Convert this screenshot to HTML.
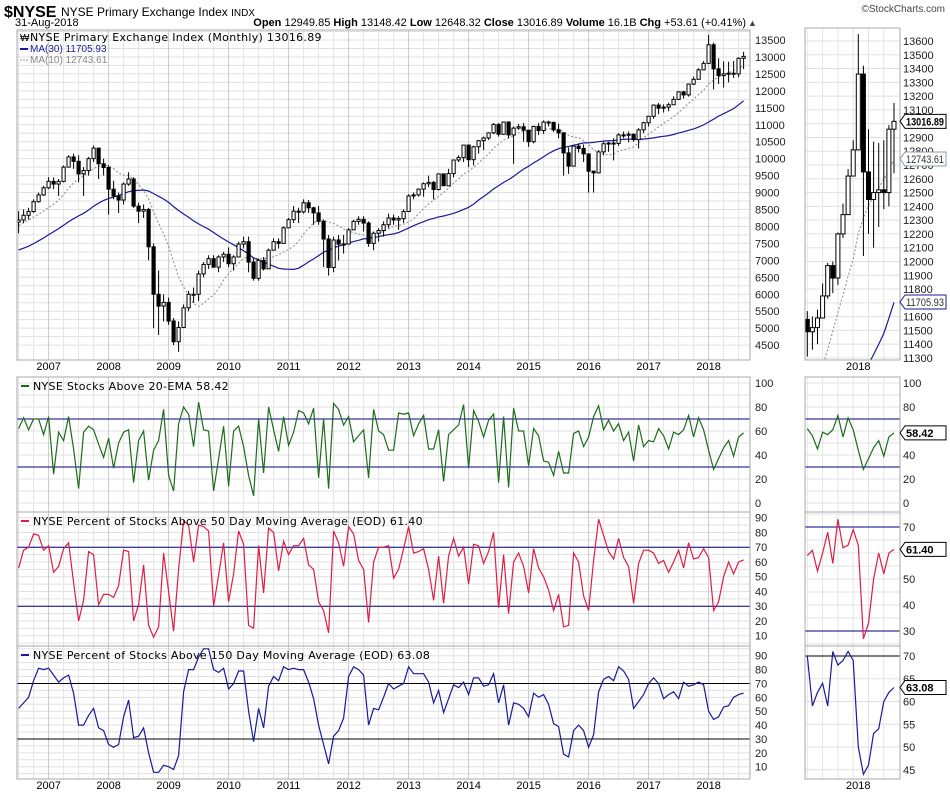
<!DOCTYPE html>
<html><head><meta charset="utf-8">
<style>
html,body{margin:0;padding:0;background:#fff;overflow:hidden;width:950px;height:795px;}
svg{display:block;font-family:"Liberation Sans",sans-serif;overflow:hidden;}
.ax{font-size:11px;fill:#222;}
</style></head>
<body>
<svg id="chart" width="950" height="795" viewBox="0 0 950 795" xmlns="http://www.w3.org/2000/svg">
<text x="4" y="17" font-size="16" font-weight="bold">$NYSE</text>
<text x="61" y="16" font-size="12">NYSE Primary Exchange Index <tspan font-size="10">INDX</tspan></text>
<text x="15" y="26" font-size="11">31-Aug-2018</text>
<text x="746" y="26" font-size="11" text-anchor="end"><tspan font-weight="bold">Open</tspan> 12949.85 <tspan font-weight="bold">High</tspan> 13148.42 <tspan font-weight="bold">Low</tspan> 12648.32 <tspan font-weight="bold">Close</tspan> 13016.89 <tspan font-weight="bold">Volume</tspan> 16.1B <tspan font-weight="bold">Chg</tspan> +53.61 (+0.41%)</text>
<text x="748" y="26" font-size="9" fill="#444">▲</text>
<text x="945" y="12" font-size="10" text-anchor="end" fill="#444">©StockCharts.com</text>
<g id="g"></g>
</svg>
<script>
const priorCloses=[6620,6740,6620,6420,6520,6660,6470,6520,6600,6700,6980,7250,7080,7320,7120,6950,7150,7270,7530,7400,7570,7490,7730,7750,8150,8200,8220,8350,8050,8130];
const closes=[8190,8330,8440,8730,8930,9140,
9330,9250,9330,9750,10050,9920,9550,9650,10000,10310,9850,9740,
9100,8900,8780,9250,9400,8600,8450,8500,7400,6000,5650,5760,
5210,4600,5020,5600,6000,6000,6600,6880,7050,6800,7100,7180,
6900,7100,7480,7550,6950,6470,7000,6750,7300,7550,7500,7960,
8200,8450,8430,8700,8550,8400,8150,7630,6790,7600,7480,7480,
7900,8150,8210,8100,7500,7800,7880,8050,8250,8190,8230,8440,
8900,8930,9100,9260,9300,9090,9550,9200,9560,9960,10030,10400,
9970,10350,10530,10610,10760,11010,10720,11080,10700,10900,10940,10840,
10500,10950,10830,11080,11070,10850,10760,10170,9780,10370,10300,10140,
9630,9580,10200,10440,10460,10450,10700,10700,10720,10560,10850,11060,
11250,11580,11490,11520,11590,11750,11970,11880,12200,12340,12620,12810,
13360,12650,12450,12500,12520,12500,12960,13016.89];
const highs=[8450,8500,8550,8800,9000,9200,
9450,9450,9400,9800,10100,10150,10100,9750,10050,10390,10300,10000,
9800,9350,9000,9300,9600,9450,8700,8650,8550,7500,6700,6000,
5900,5300,5200,5700,6100,6200,6700,6950,7150,7150,7150,7250,
7380,7150,7550,7700,7700,7050,7050,7100,7350,7650,7650,8000,
8250,8600,8550,8800,8780,8580,8600,8200,7750,7700,7750,7750,
7950,8200,8300,8300,8150,7850,7950,8150,8380,8350,8300,8500,
8950,9000,9120,9300,9500,9340,9560,9550,9700,9960,10100,10400,
10420,10380,10550,10650,10780,11050,11050,11080,11100,10950,11020,11050,
10850,10970,11050,11130,11120,11090,11030,10780,10330,10380,10450,10420,
10150,9650,10250,10500,10500,10600,10750,10800,10800,10740,10900,11090,
11250,11600,11640,11600,11650,11840,11990,12000,12210,12420,12670,12880,
13650,13420,12960,12870,12860,12880,12990,13150];
const lows=[7800,8100,8200,8400,8700,8900,
9100,9100,8900,9300,9750,9700,9300,8900,9500,9900,9400,9500,
8350,8800,8400,8650,9200,8550,8100,8250,7000,5000,4800,5200,
5100,4500,4300,5000,5500,5750,5800,6500,6750,6780,6650,6950,
6800,6700,7100,7350,6650,6400,6400,6700,6750,7300,7350,7500,
7950,8100,8100,8380,8400,8050,8050,6800,6550,6650,7000,7200,
7550,7950,8050,7850,7400,7300,7550,7700,7950,8050,7900,8100,
8450,8800,8880,8880,9160,8800,9060,9200,9200,9450,9900,9900,
9750,9800,10150,10250,10550,10720,10650,10700,10600,9850,10850,10500,
10350,10450,10700,10730,10950,10790,10600,9500,9550,9780,10180,9900,
9000,9000,9560,10100,10200,9950,10380,10600,10480,10500,10300,10750,
10950,11180,11310,11360,11400,11600,11730,11770,11830,12170,12380,12640,
12830,12040,12200,12100,12250,12380,12400,12640];
const ema20=[62,71,61,70,70,57,72,24,59,52,72,45,12,59,64,61,49,38,54,29,50,59,61,17,52,60,19,44,52,78,23,10,66,80,74,47,84,61,60,10,37,64,14,60,64,47,23,6,70,25,80,61,43,72,48,59,77,75,66,79,21,70,12,83,78,65,72,51,56,61,21,78,60,57,44,44,75,74,75,56,66,73,45,45,61,18,57,61,65,82,29,77,68,55,69,74,17,72,13,79,60,60,31,62,56,35,34,23,43,25,25,58,60,47,55,72,81,61,69,60,66,52,59,35,65,47,52,51,62,56,45,59,57,61,73,55,71,61,44,28,37,46,52,39,55,58.42];
const dma50=[56,68,70,79,78,68,71,53,57,69,73,46,20,34,67,65,31,38,38,36,44,68,67,20,31,58,17,9,16,66,40,13,55,88,85,60,85,84,81,30,51,73,33,52,81,72,17,15,71,39,83,80,54,74,65,71,71,76,58,55,33,27,12,81,73,57,84,79,61,55,19,60,70,70,71,49,55,69,84,66,67,69,55,34,64,32,64,76,64,70,45,72,71,59,67,80,29,65,25,60,66,57,39,69,56,50,41,27,38,16,17,66,60,37,27,61,89,78,67,62,76,63,57,32,59,68,68,66,59,61,53,60,68,56,73,62,63,69,63,27,33,50,60,52,60,61.40];
const dma150=[52,56,60,72,81,80,81,76,71,74,76,63,40,40,47,52,38,36,26,24,26,46,58,31,32,38,20,6,6,11,10,8,18,64,80,80,89,95,95,80,78,81,66,70,79,79,50,28,52,38,68,75,72,82,80,81,80,80,71,59,40,26,12,32,36,45,75,82,80,76,40,52,51,60,70,66,68,70,82,77,77,77,71,56,65,49,59,69,67,71,62,74,74,68,69,77,56,69,40,56,55,52,46,63,60,62,55,41,39,19,17,36,40,36,24,33,64,73,75,72,82,79,73,52,57,62,70,74,70,59,62,64,59,71,68,69,71,69,50,44,46,53,54,60,62,63.08];
const yearLabels=["2007","2008","2009","2010","2011","2012","2013","2014","2015","2016","2017","2018"];
const mainTicks=[4500,5000,5500,6000,6500,7000,7500,8000,8500,9000,9500,10000,10500,11000,11500,12000,12500,13000,13500];
const zoomTicks=[11300,11400,11500,11600,11700,11800,11900,12000,12100,12200,12300,12400,12500,12600,12700,12800,12900,13000,13100,13200,13300,13400,13500,13600];
const p2Ticks=[0,20,40,60,80,100];
const p3Ticks=[10,20,30,40,50,60,70,80,90];
const p3rTicks=[30,40,50,60,70];
const p4Ticks=[10,20,30,40,50,60,70,80,90];
const p4rTicks=[45,50,55,60,65,70];

const NS="http://www.w3.org/2000/svg";
const G=document.getElementById('g');
function mk(tag,at,parent){const e=document.createElementNS(NS,tag);for(const k in at)e.setAttribute(k,at[k]);(parent||G).appendChild(e);return e;}

const L={x0:17,x1:750}, R={x0:805,x1:900};
const P={main:[30,360],p2:[377,512],p3:[512,646],p4:[646,779]};
const xL=i=>18.6+5*i;
const ZS=128;
const xR=i=>858.3+(i-138)*5.1;
const yMain=v=>40+(13500-v)*0.0339;
const yZoom=v=>41+(13600-v)*0.1378;
const y2=v=>503-1.2*v;
const y3=v=>517.7+(90-v)*1.475;
const y3r=v=>527+(70-v)*2.6;
const y4=v=>655.7+(90-v)*1.3875;
const y4r=v=>656+(70-v)*4.55;

let clipN=0;
function clip(x0,y0,x1,y1){const id='c'+(clipN++);const cp=mk('clipPath',{id:id});mk('rect',{x:x0,y:y0,width:x1-x0,height:y1-y0},cp);const g=mk('g',{'clip-path':'url(#'+id+')'});return g;}

function frame(x0,x1,y0,y1,name){
  const r=mk('rect',{x:x0,y:y0,width:x1-x0,height:y1-y0,fill:'none',stroke:'#aaa','stroke-width':1});
  
  
}
function vgrid(g,y0,y1,left){
  if(left){
    for(let i=0;i<146;i+=3){const x=xL(i);const yr=((i-6)%12===0);
      mk('line',{x1:x,x2:x,y1:y0,y2:y1,stroke:yr?'#c8c8c8':'#e4e4e4','stroke-width':1},g);}
  }else{
    for(let i=ZS;i<146;i+=3){const x=xR(i);const yr=(i===138);
      mk('line',{x1:x,x2:x,y1:y0,y2:y1,stroke:yr?'#c8c8c8':'#e4e4e4','stroke-width':1},g);}
  }
}
function hgrid(g,x0,x1,vals,fy){vals.forEach(v=>mk('line',{x1:x0,x2:x1,y1:fy(v),y2:fy(v),stroke:'#e0e0e0'},g));}
function ticks(vals,fy,x,name){vals.forEach(v=>{const t=mk('text',{x:x,y:fy(v)+4,class:'ax'});t.textContent=v;
  
  });}
function line(g,xs,ys,color,name,extra){
  const pts=xs.map((x,k)=>x.toFixed(1)+','+ys[k].toFixed(1)).join(' ');
  const p=mk('polyline',Object.assign({points:pts,fill:'none',stroke:color,'stroke-width':1.2},extra||{}),g);
  
  
}
function tag(x,y,txt,color,bold,name){
  const w=46;
  const p=mk('polygon',{points:`${x},${y} ${x+5},${y-7} ${x+w},${y-7} ${x+w},${y+7} ${x+5},${y+7}`,fill:'#fff',stroke:color,'stroke-width':1});
  
  
  const at={x:x+6,y:y+4,'font-size':11,'font-weight':bold?'bold':'normal',fill:bold?'#000':'#333'};
  if(txt.length>5){at.textLength=38;at.lengthAdjust='spacingAndGlyphs';}
  const t=mk('text',at);t.textContent=txt;
  
  
}

const all=priorCloses.concat(closes);
function ma(n){return closes.map((c,i)=>{const j=i+priorCloses.length;let s=0,k=0;for(let m=Math.max(0,j-n+1);m<=j;m++){s+=all[m];k++;}return s/k;});}
const ma30=ma(30), ma10=ma(10);
const opens=closes.map((c,i)=>i===0?8130:closes[i-1]);

function candles(g,xf,yf,from,bw){
  for(let i=from;i<closes.length;i++){
    const x=xf(i),o=opens[i],c=closes[i];
    const w=mk('line',{x1:x,x2:x,y1:yf(highs[i]),y2:yf(lows[i]),stroke:'#000','stroke-width':1},g);
    
    
    const top=yf(Math.max(o,c)),bot=yf(Math.min(o,c));
    const b=mk('rect',{x:x-bw/2,y:top,width:bw,height:Math.max(1,bot-top),fill:c>=o?'#fff':'#000',stroke:'#000','stroke-width':1},g);
    
    
  }
}

{const [a,b]=P.main;const g=clip(L.x0,a,L.x1,b);
 hgrid(g,L.x0,L.x1,mainTicks.concat(mainTicks.map(v=>v+250)),yMain);vgrid(g,a,b,true);
 line(g,closes.map((c,i)=>xL(i)),ma10.map(yMain),'#999','ma10-line',{'stroke-dasharray':'2,2'});
 line(g,closes.map((c,i)=>xL(i)),ma30.map(yMain),'#1a1a99','ma30-line');
 candles(g,xL,yMain,0,3.2);
 frame(L.x0,L.x1,a,b,'price-panel');ticks(mainTicks,yMain,755,'price-tick');}
{const [a,b]=[28,360];const g=clip(R.x0,a,R.x1,b);
 hgrid(g,R.x0,R.x1,zoomTicks,yZoom);vgrid(g,a,b,false);
 const idx=[];for(let i=ZS;i<146;i++)idx.push(i);
 line(g,idx.map(xR),idx.map(i=>yZoom(ma10[i])),'#999','zoom-ma10-line',{'stroke-dasharray':'2,2'});
 line(g,idx.map(xR),idx.map(i=>yZoom(ma30[i])),'#1a1a99','zoom-ma30-line');
 candles(g,xR,yZoom,ZS,4);
 frame(R.x0,R.x1,a,b,'zoom-price-panel');ticks(zoomTicks,yZoom,903,'zoom-price-tick');
 tag(900,yZoom(13016.89),'13016.89','#000',true,'close-tag');
 tag(900,yZoom(12743.61),'12743.61','#8899aa',false,'ma10-tag');
 tag(900,yZoom(11705.93),'11705.93','#1a1a99',false,'ma30-tag');}

function indPanel(key,data,fyL,fyR,ticksL,ticksR,color,name,gridL,gridR,label,tagTxt){
  const [a,b]=P[key];
  let g=clip(L.x0,a,L.x1,b);
  hgrid(g,L.x0,L.x1,gridL,fyL);vgrid(g,a,b,true);
  [30,70].forEach(v=>mk('line',{x1:L.x0,x2:L.x1,y1:fyL(v),y2:fyL(v),stroke:key==='p4'?'#000':'#000080','stroke-width':1},g));
  line(g,data.map((d,i)=>xL(i)),data.map(fyL),color,name+'-line');
  frame(L.x0,L.x1,a,b,name+'-panel');ticks(ticksL,fyL,755,name+'-tick');
  mk('rect',{x:L.x0+4,y:a+8,width:8,height:2,fill:color});
  const t=mk('text',{x:L.x0+16,y:a+13,'font-size':11,'font-family':'DejaVu Sans, sans-serif','letter-spacing':'0.3'});t.textContent=label;
  
  
  g=clip(R.x0,a,R.x1,b);
  hgrid(g,R.x0,R.x1,gridR,fyR);vgrid(g,a,b,false);
  [30,70].forEach(v=>mk('line',{x1:R.x0,x2:R.x1,y1:fyR(v),y2:fyR(v),stroke:key==='p4'?'#000':'#000080','stroke-width':1},g));
  const idx=[];for(let i=ZS;i<146;i++)idx.push(i);
  line(g,idx.map(xR),idx.map(i=>fyR(data[i])),color,name+'-zoom-line');
  frame(R.x0,R.x1,a,b,name+'-zoom-panel');ticks(ticksR,fyR,903,name+'-zoom-tick');
  tag(900,fyR(data[145]),tagTxt,'#000',true,name+'-tag');
}
const g10=[];for(let v=0;v<=100;v+=10)g10.push(v);
const g5=[];for(let v=0;v<=100;v+=5)g5.push(v);
indPanel('p2',ema20,y2,y2,p2Ticks,p2Ticks,'#1d6b1d','ema20',g10,g10,'NYSE Stocks Above 20-EMA 58.42','58.42');
indPanel('p3',dma50,y3,y3r,p3Ticks,p3rTicks,'#dd1d44','dma50',g5,g5,'NYSE Percent of Stocks Above 50 Day Moving Average (EOD) 61.40','61.40');
indPanel('p4',dma150,y4,y4r,p4Ticks,p4rTicks,'#1a1a99','dma150',g5,g5,'NYSE Percent of Stocks Above 150 Day Moving Average (EOD) 63.08','63.08');

{const t=mk('text',{x:30,y:41,'font-size':11,'font-family':'DejaVu Sans, sans-serif','letter-spacing':'0.3'});t.textContent='NYSE Primary Exchange Index (Monthly) 13016.89';
 
 
 mk('text',{x:20,y:41,'font-size':10}).textContent='₩';
 mk('rect',{x:20,y:48,width:8,height:2,fill:'#1a1a99'});
 const t2=mk('text',{x:30,y:52,'font-size':10,fill:'#1a1a99'});t2.textContent='MA(30) 11705.93';
 
 
 mk('line',{x1:20,x2:28,y1:60,y2:60,stroke:'#999','stroke-dasharray':'2,1'});
 const t3=mk('text',{x:30,y:63,'font-size':10,fill:'#888'});t3.textContent='MA(10) 12743.61';
 
 }

yearLabels.forEach((y,k)=>{const x=xL(6+12*k);[370,789].forEach(yy=>{const t=mk('text',{x:x,y:yy,'font-size':11,'text-anchor':'middle'});t.textContent=y;
  
  });});
[370,789].forEach(yy=>{const t=mk('text',{x:xR(138),y:yy,'font-size':11,'text-anchor':'middle'});t.textContent='2018';
  
  });
</script>
</body></html>
